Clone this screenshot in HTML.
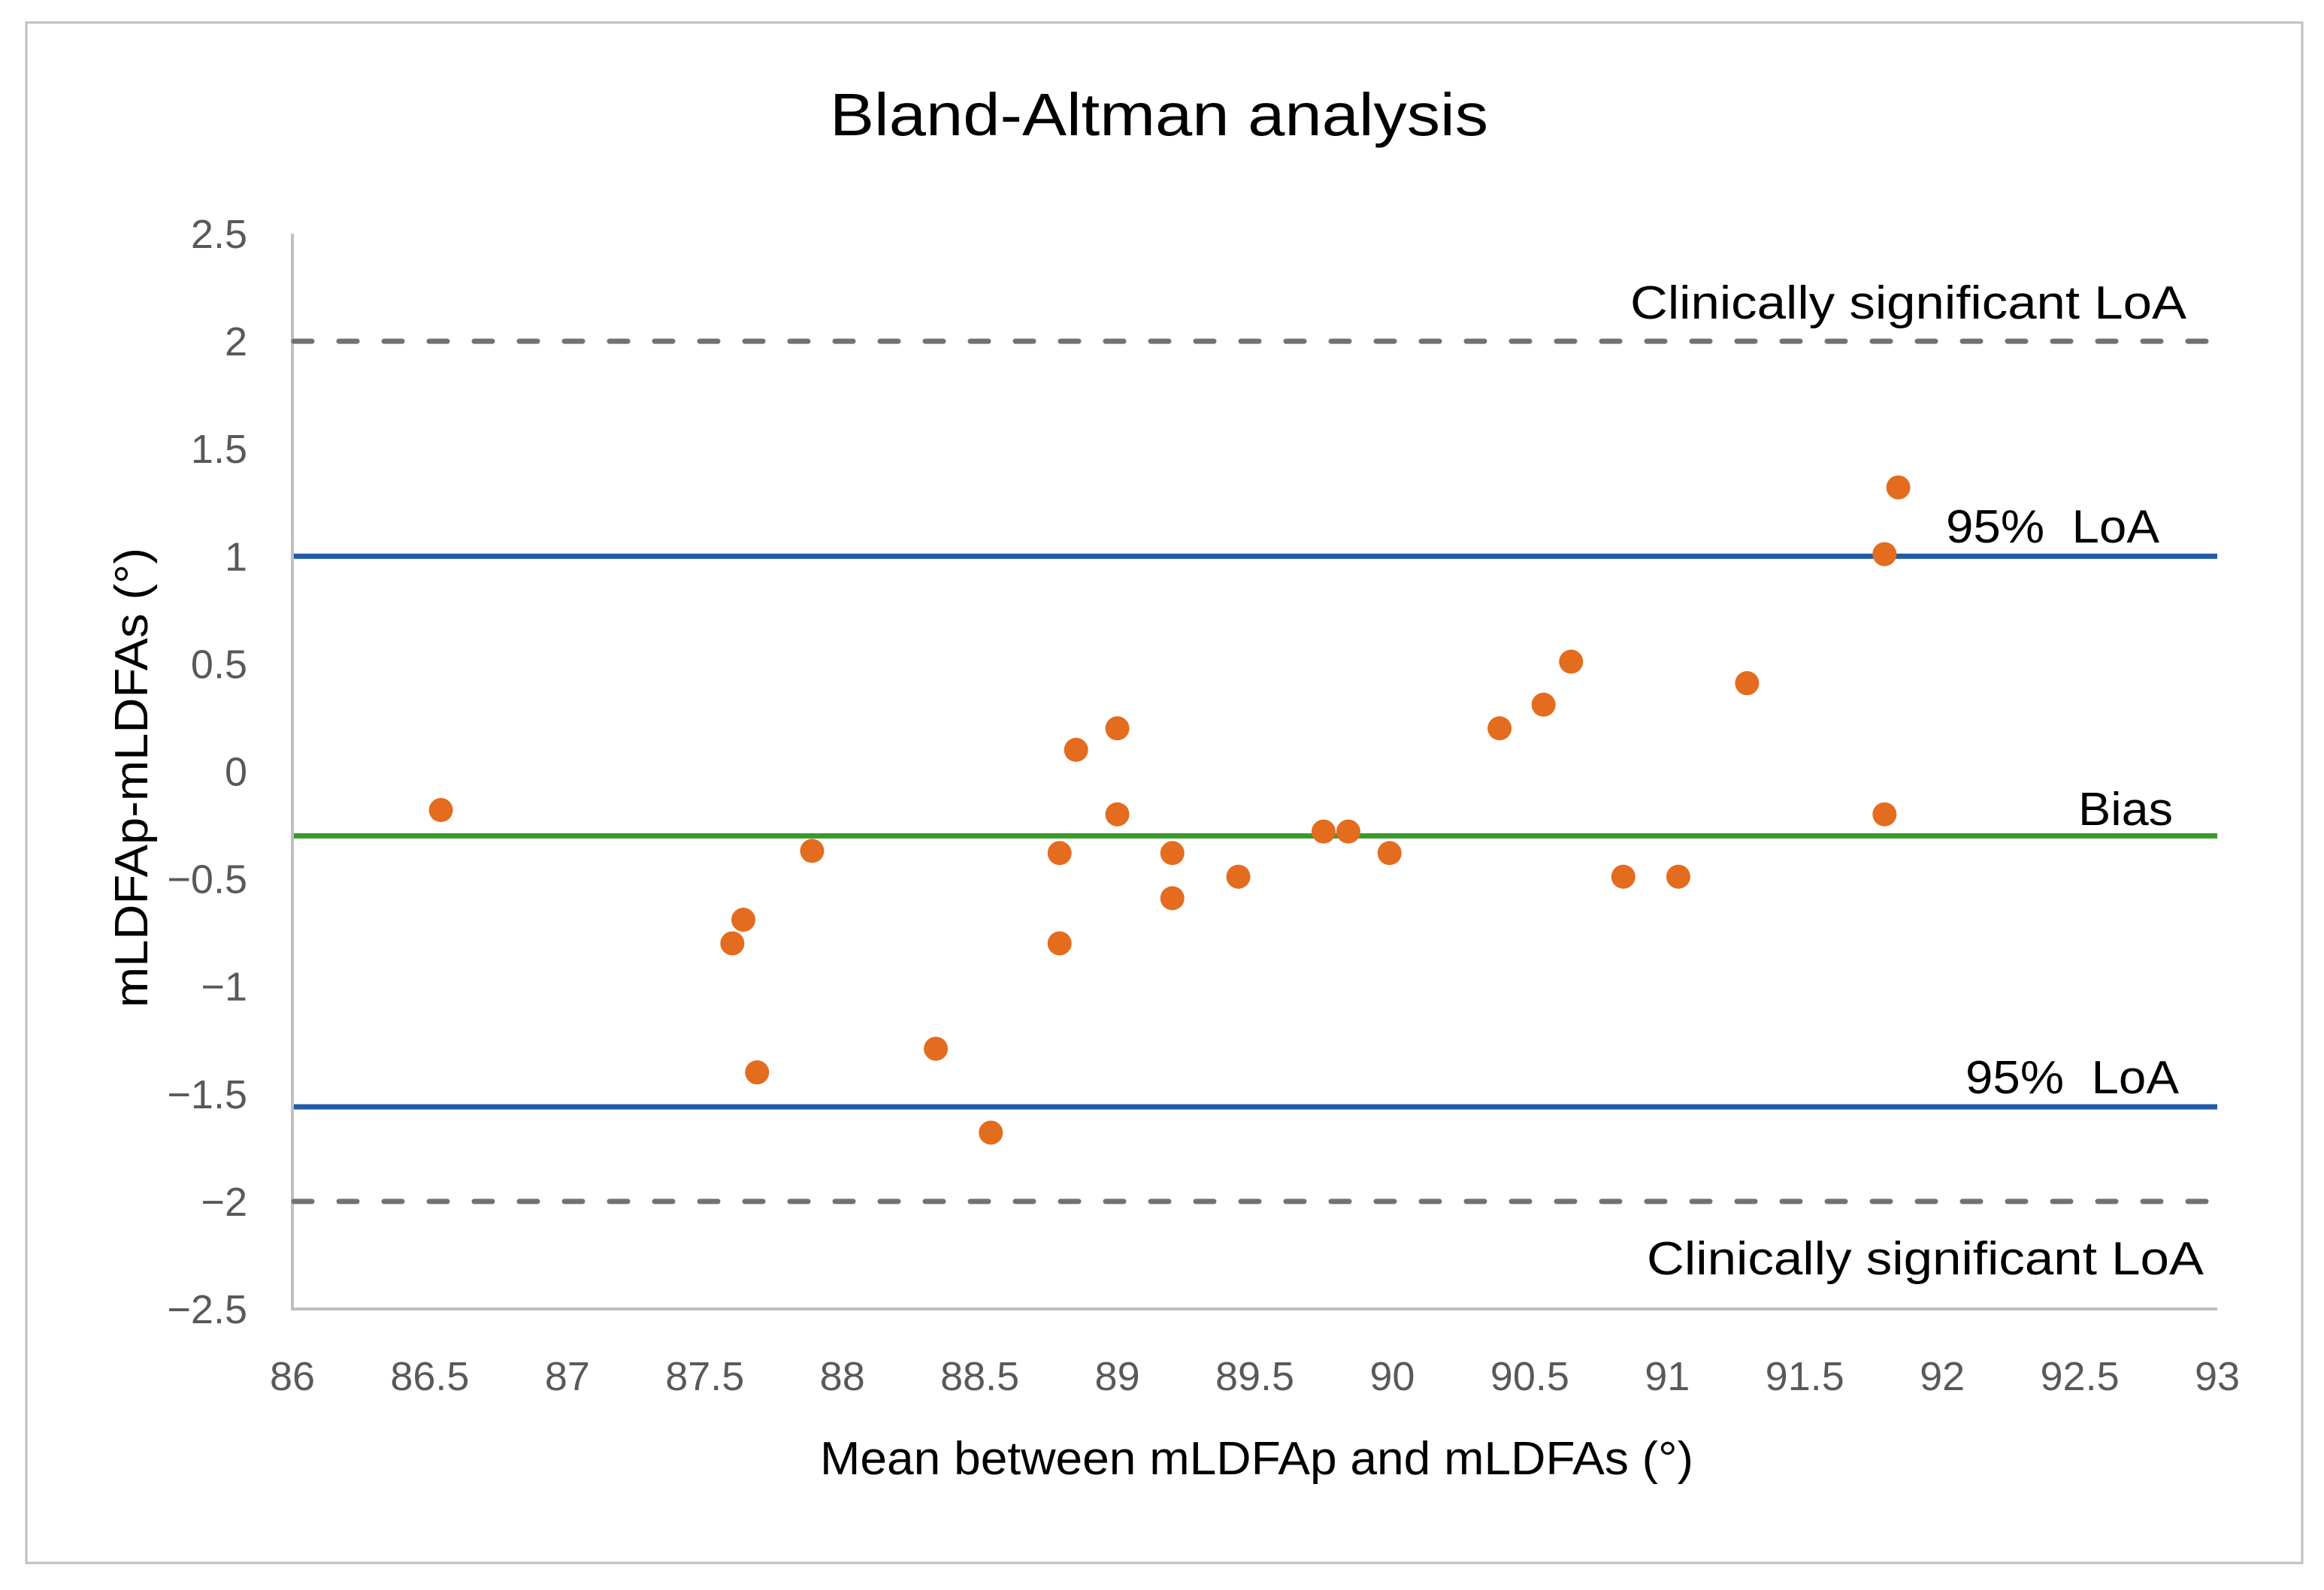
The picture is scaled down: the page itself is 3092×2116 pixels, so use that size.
<!DOCTYPE html>
<html><head><meta charset="utf-8"><style>
html,body{margin:0;padding:0;background:#fff}
svg{display:block}
text{font-family:"Liberation Sans",sans-serif}
</style></head><body>
<svg id="chart" width="3092" height="2116" viewBox="0 0 3092 2116" xmlns="http://www.w3.org/2000/svg">
<rect x="35" y="30" width="3028" height="2050" fill="#fff" stroke="#bfbfbf" stroke-width="3"/>
<text x="1542" y="180" font-size="80" text-anchor="middle" fill="#000" textLength="876" lengthAdjust="spacingAndGlyphs">Bland-Altman analysis</text>
<g id="grid"></g>
<g id="ylabels"></g>
<g id="xlabels"></g>
<g id="reflines"></g>
<g id="points"></g>
<text transform="translate(196,1035) rotate(-90)" font-size="62" text-anchor="middle" fill="#000" textLength="612" lengthAdjust="spacingAndGlyphs">mLDFAp-mLDFAs (°)</text>
<text x="1672" y="1962" font-size="62" text-anchor="middle" fill="#000" textLength="1162" lengthAdjust="spacingAndGlyphs">Mean between mLDFAp and mLDFAs (°)</text>
<text x="2169" y="424" font-size="62" fill="#000" textLength="740" lengthAdjust="spacingAndGlyphs">Clinically significant LoA</text>
<text x="2191" y="1696" font-size="62" fill="#000" textLength="741" lengthAdjust="spacingAndGlyphs">Clinically significant LoA</text>
<text x="2589" y="722" font-size="62" fill="#000" textLength="284" lengthAdjust="spacingAndGlyphs" xml:space="preserve">95%  LoA</text>
<text x="2615" y="1455" font-size="62" fill="#000" textLength="284" lengthAdjust="spacingAndGlyphs" xml:space="preserve">95%  LoA</text>
<text x="2765" y="1098" font-size="62" fill="#000" textLength="126" lengthAdjust="spacingAndGlyphs">Bias</text>
</svg>
<script>
const xTicks = [86, 86.5, 87, 87.5, 88, 88.5, 89, 89.5, 90, 90.5, 91, 91.5, 92, 92.5, 93];
const yTicks = [2.5, 2, 1.5, 1, 0.5, 0, -0.5, -1, -1.5, -2, -2.5];
const yTickLabels = ["2.5", "2", "1.5", "1", "0.5", "0", "\u22120.5", "\u22121", "\u22121.5", "\u22122", "\u22122.5"];
const meanValues = [86.54, 87.60, 87.64, 87.69, 87.89, 88.34, 88.54, 88.79, 88.79, 88.85, 89.00, 89.00, 89.20, 89.20, 89.44, 89.75, 89.84, 89.99, 90.39, 90.55, 90.65, 90.84, 91.04, 91.29, 91.79, 91.79, 91.84];
const diffValues = [-0.18, -0.80, -0.69, -1.40, -0.37, -1.29, -1.68, -0.38, -0.80, 0.10, 0.20, -0.20, -0.38, -0.59, -0.49, -0.28, -0.28, -0.38, 0.20, 0.31, 0.51, -0.49, -0.49, 0.41, -0.20, 1.01, 1.32];
const clinicalLoA = [2, -2];
const loa95 = [1.0, -1.56];
const bias = [-0.30];

const NS = "http://www.w3.org/2000/svg";
const X0 = 389, X1 = 2950, Y0 = 311, Y1 = 1742;
const xMin = 86, xMax = 93, yMin = -2.5, yMax = 2.5;
function sx(v){ return X0 + (v - xMin) / (xMax - xMin) * (X1 - X0); }
function sy(v){ return Y1 - (v - yMin) / (yMax - yMin) * (Y1 - Y0); }
function mk(tag, attrs, parent){
  const e = document.createElementNS(NS, tag);
  for (const k in attrs) e.setAttribute(k, attrs[k]);
  parent.appendChild(e);
  return e;
}
const grid = document.getElementById('grid');
let a = mk('line', {x1:X0, y1:Y0, x2:X0, y2:Y1, stroke:'#bfbfbf', 'stroke-width':4}, grid);


a = mk('line', {x1:X0-2, y1:Y1, x2:X1, y2:Y1, stroke:'#bfbfbf', 'stroke-width':4}, grid);



const yl = document.getElementById('ylabels');
yTicks.forEach((v, i) => {
  const t = mk('text', {x:329, y:sy(v)+19, 'font-size':54, 'text-anchor':'end', fill:'#595959'}, yl);
  t.textContent = yTickLabels[i];
  
  
});
const xl = document.getElementById('xlabels');
xTicks.forEach(v => {
  const t = mk('text', {x:sx(v), y:1850, 'font-size':54, 'text-anchor':'middle', fill:'#595959'}, xl);
  t.textContent = String(v);
  
  
});
const rl = document.getElementById('reflines');
clinicalLoA.forEach(v => {
  const l = mk('line', {x1:X0+2, y1:sy(v), x2:X1, y2:sy(v), stroke:'#767171', 'stroke-width':7, 'stroke-dasharray':'24 36', 'stroke-linecap':'round'}, rl);
  
  
});
loa95.forEach(v => {
  const l = mk('line', {x1:X0+2, y1:sy(v), x2:X1, y2:sy(v), stroke:'#1f5aa6', 'stroke-width':7}, rl);
  
  
});
bias.forEach(v => {
  const l = mk('line', {x1:X0+2, y1:sy(v), x2:X1, y2:sy(v), stroke:'#3a9a2a', 'stroke-width':7}, rl);
  
  
});
const pg = document.getElementById('points');
meanValues.forEach((m, i) => {
  const c = mk('circle', {cx:sx(m), cy:sy(diffValues[i]), r:16, fill:'#e36c1e'}, pg);
  
  
});
</script>
</body></html>
